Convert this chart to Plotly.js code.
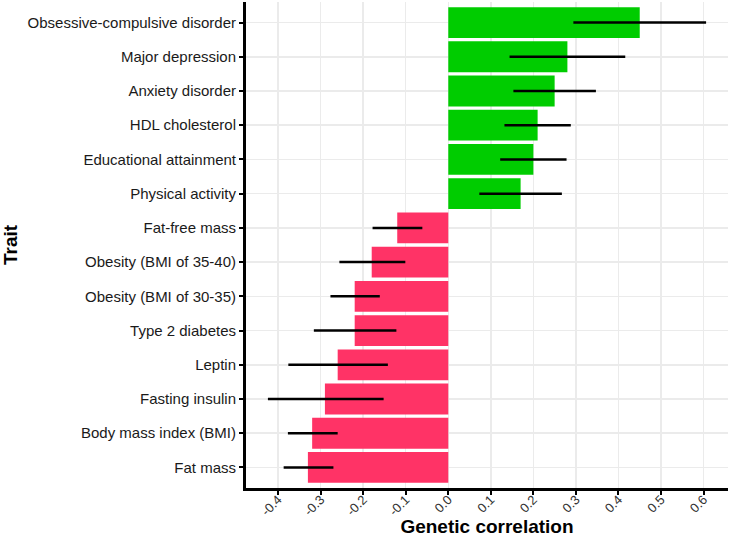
<!DOCTYPE html>
<html>
<head>
<meta charset="utf-8">
<script src="https://cdn.plot.ly/plotly-3.0.1.min.js"></script>
<style>
  html, body { margin: 0; padding: 0; background: #fff; }
  #plot { width: 731px; height: 537px; }
</style>
</head>
<body>
<div id="plot"></div>
<script>
// traits listed top to bottom
var traits = [
  'Obsessive-compulsive disorder', 'Major depression', 'Anxiety disorder',
  'HDL cholesterol', 'Educational attainment', 'Physical activity',
  'Fat-free mass', 'Obesity (BMI of 35-40)', 'Obesity (BMI of 30-35)',
  'Type 2 diabetes', 'Leptin', 'Fasting insulin',
  'Body mass index (BMI)', 'Fat mass'
];
var rg    = [0.45, 0.28, 0.25, 0.21, 0.20, 0.17, -0.12, -0.18, -0.22, -0.22, -0.26, -0.29, -0.32, -0.33];
var lower = [0.294, 0.144, 0.153, 0.132, 0.122, 0.073, -0.178, -0.256, -0.277, -0.316, -0.376, -0.424, -0.377, -0.387];
var upper = [0.606, 0.416, 0.347, 0.288, 0.278, 0.267, -0.061, -0.101, -0.161, -0.122, -0.142, -0.152, -0.260, -0.270];
var xTicks = [-0.4, -0.3, -0.2, -0.1, 0, 0.1, 0.2, 0.3, 0.4, 0.5, 0.6];

var trace = {
  type: 'bar',
  orientation: 'h',
  x: rg,
  y: traits,
  marker: { color: rg.map(v => v >= 0 ? '#00cc00' : '#ff3366') },
  error_x: {
    type: 'data',
    symmetric: false,
    array: upper.map((u, i) => u - rg[i]),
    arrayminus: lower.map((l, i) => rg[i] - l),
    width: 0,
    thickness: 2.5,
    color: '#000'
  },
  hoverinfo: 'x+y'
};

var layout = {
  width: 731,
  height: 537,
  margin: { l: 246, r: 3, t: 2, b: 49 },
  paper_bgcolor: '#fff',
  plot_bgcolor: '#fff',
  font: { family: 'Liberation Sans, Arial, sans-serif', size: 14, color: '#1a1a1a' },
  bargap: 0.1,
  showlegend: false,
  xaxis: {
    range: [-0.4755, 0.6575],
    tickvals: xTicks,
    ticktext: xTicks.map(v => v.toFixed(1)),
    tickangle: -45,
    tickfont: { size: 13, color: '#333' },
    ticklabelstandoff: -8,
    showgrid: true,
    gridcolor: '#ebebeb',
    gridwidth: 1.5,
    zeroline: false,
    showline: true,
    linecolor: '#000',
    linewidth: 3,
    ticks: 'outside',
    ticklen: 4,
    tickwidth: 2,
    tickcolor: '#000',
    title: { text: 'Genetic correlation', font: { size: 19, color: '#000', weight: 'bold' }, standoff: 6 }
  },
  yaxis: {
    type: 'category',
    range: [13.6, -0.6],
    tickfont: { size: 15, color: '#1a1a1a' },
    showgrid: true,
    gridcolor: '#ebebeb',
    gridwidth: 1.5,
    zeroline: false,
    showline: true,
    linecolor: '#000',
    linewidth: 3,
    ticks: 'outside',
    ticklen: 4,
    tickwidth: 2,
    tickcolor: '#000',
    title: { text: 'Trait', font: { size: 19, color: '#000', weight: 'bold' }, standoff: 6 }
  }
};

Plotly.newPlot('plot', [trace], layout, { displayModeBar: false, staticPlot: true });
</script>
</body>
</html>
